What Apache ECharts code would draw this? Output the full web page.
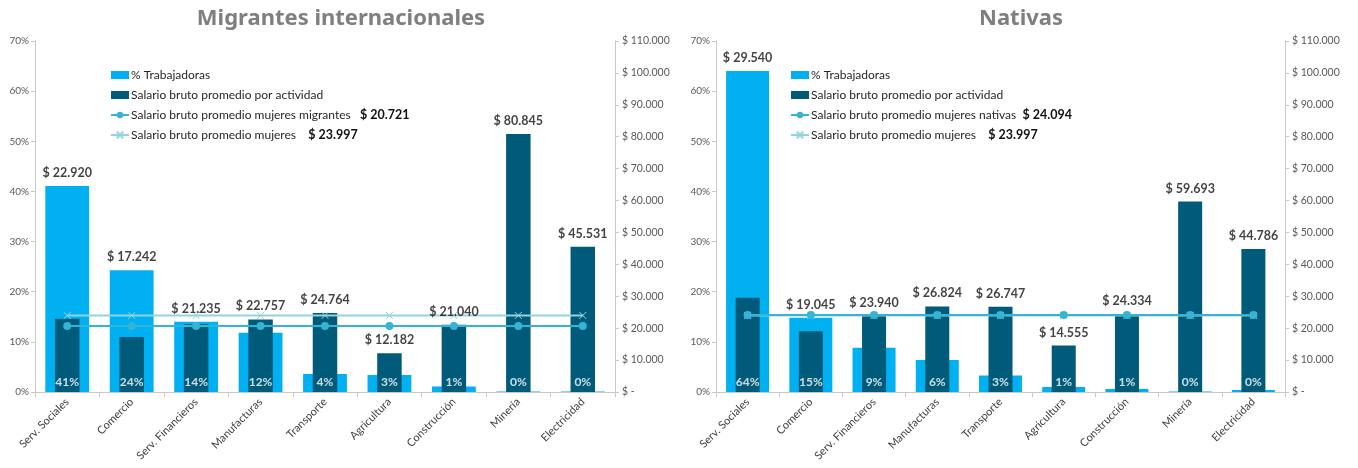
<!DOCTYPE html>
<html>
<head>
<meta charset="utf-8">
<script src="https://cdn.jsdelivr.net/npm/echarts@6/dist/echarts.min.js"></script>
<style>
  html, body { margin: 0; padding: 0; background: #fff; }
  #chart { width: 1358px; height: 468px; }
</style>
</head>
<body>
<div id="chart"></div>
<script>
// data
const categories = ['Serv. Sociales', 'Comercio', 'Serv. Financieros', 'Manufacturas', 'Transporte', 'Agricultura', 'Construcción', 'Minería', 'Electricidad'];

const pctMigrantes = [41.1, 24.3, 14.0, 11.8, 3.6, 3.4, 1.1, 0.1, 0.1];
const salarioMigrantes = [22920, 17242, 21235, 22757, 24764, 12182, 21040, 80845, 45531];
const promMigrantes = [20721, 20721, 20721, 20721, 20721, 20721, 20721, 20721, 20721];

const pctNativas = [64.0, 14.8, 8.8, 6.4, 3.3, 1.0, 0.6, 0.1, 0.4];
const salarioNativas = [29540, 19045, 23940, 26824, 26747, 14555, 24334, 59693, 44786];
const promNativas = [24094, 24094, 24094, 24094, 24094, 24094, 24094, 24094, 24094];

const promMujeres = [23997, 23997, 23997, 23997, 23997, 23997, 23997, 23997, 23997];

const pctMax = 70, pctStep = 10;
const salMax = 110000, salStep = 10000;

const FONT = 'Lato, "Liberation Sans", sans-serif';
const TITLE_FONT = '"Noto Sans", sans-serif';
const LIGHT = '#00b0f0';
const DARK = '#005b7a';
const LINE1 = '#35b4d6';
const LINE2 = '#93d3de';
const AXIS = '#c8c8c8';

const money = v => v === 0 ? '$ -' : '$ ' + String(v).replace(/\B(?=(\d{3})+(?!\d))/g, '.');

const chart = echarts.init(document.getElementById('chart'));

const grids = [], xAxes = [], yAxes = [], series = [], legends = [], titles = [];

function panel(i, title, pct, sal, prom, promName, gap, left, right, legendLeft, titleX) {
    grids.push({ left: left, right: right, top: 41, bottom: 76 });
    titles.push({
        text: title, left: titleX, top: 3, textAlign: 'center',
        textStyle: { fontFamily: TITLE_FONT, fontWeight: 'bold', fontSize: 22, color: '#7f7f7f' }
    });
    xAxes.push({
        type: 'category', gridIndex: i, data: categories,
        axisLine: { lineStyle: { color: AXIS } },
        axisTick: { show: true, length: 5, lineStyle: { color: AXIS } },
        axisLabel: { interval: 0, rotate: 45, fontFamily: FONT, fontSize: 11, color: '#404040', margin: 8 }
    });
    xAxes.push({ type: 'category', gridIndex: i, data: categories, show: false });
    yAxes.push({
        type: 'value', gridIndex: i, min: 0, max: pctMax, interval: pctStep, position: 'left',
        splitLine: { show: false },
        axisLine: { show: true, lineStyle: { color: AXIS } },
        axisTick: { show: true, length: 4, lineStyle: { color: AXIS } },
        axisLabel: { formatter: v => v + '%', fontFamily: FONT, fontSize: 10, color: '#595959', margin: 6 }
    });
    yAxes.push({
        type: 'value', gridIndex: i, min: 0, max: salMax, interval: salStep, position: 'right',
        splitLine: { show: false },
        axisLine: { show: true, lineStyle: { color: AXIS } },
        axisTick: { show: true, length: 4, lineStyle: { color: AXIS } },
        axisLabel: { formatter: money, fontFamily: FONT, fontSize: 10.5, color: '#595959', margin: 7, align: 'left' }
    });
    const xa = 2 * i, xb = 2 * i + 1, yl = 2 * i, yr = 2 * i + 1;
    series.push({
        name: '% Trabajadoras', type: 'bar', xAxisIndex: xa, yAxisIndex: yl,
        data: pct, barWidth: '68%', itemStyle: { color: LIGHT }, z: 2
    });
    series.push({
        name: 'Salario bruto promedio por actividad', type: 'bar', xAxisIndex: xb, yAxisIndex: yr,
        data: sal, barWidth: '38%', itemStyle: { color: DARK }, z: 2
    });
    series.push({
        name: 'Salario bruto promedio mujeres', type: 'line', xAxisIndex: xa, yAxisIndex: yr,
        data: promMujeres, symbol: 'path://M0,0L10,10M10,0L0,10', symbolSize: 7,
        itemStyle: { color: 'rgba(0,0,0,0)', borderColor: LINE2, borderWidth: 1 },
        lineStyle: { color: LINE2, width: 2 }, z: 5
    });
    series.push({
        name: promName, type: 'line', xAxisIndex: xa, yAxisIndex: yr,
        data: prom, symbol: 'circle', symbolSize: 8,
        itemStyle: { color: LINE1 }, lineStyle: { color: LINE1, width: 2 }, z: 6
    });
    // salary value labels, placed above whichever bar is taller
    series.push({
        type: 'scatter', xAxisIndex: xa, yAxisIndex: yr, silent: true, z: 10,
        data: sal.map((s, k) => Math.max(s, pct[k] / pctMax * salMax)),
        symbolSize: 1, itemStyle: { color: 'rgba(0,0,0,0)' },
        label: {
            show: true, position: 'top', distance: 6,
            formatter: p => money(sal[p.dataIndex]),
            fontFamily: FONT, fontWeight: 'bold', fontSize: 12.5, color: '#111111'
        }
    });
    // percentage labels at the foot of each bar
    series.push({
        type: 'scatter', xAxisIndex: xa, yAxisIndex: yl, silent: true, z: 11,
        data: pct.map(() => 0),
        symbolSize: 1, itemStyle: { color: 'rgba(0,0,0,0)' },
        label: {
            show: true, position: 'top', distance: 3,
            formatter: p => Math.round(pct[p.dataIndex]) + '%',
            fontFamily: FONT, fontWeight: 'bold', fontSize: 12, color: '#ffffff'
        }
    });
    const promVal = money(prom[0]);
    const mujVal = money(promMujeres[0]);
    legends.push({
        left: legendLeft, top: 63, orient: 'vertical', itemGap: 6,
        itemWidth: 18, itemHeight: 8,
        data: [
            { name: '% Trabajadoras', icon: 'rect' },
            { name: 'Salario bruto promedio por actividad', icon: 'rect' },
            { name: promName },
            { name: 'Salario bruto promedio mujeres' }
        ],
        formatter: n => n === promName ? n + gap + '{v|' + promVal + '}'
            : n === 'Salario bruto promedio mujeres' ? n + '    {v|' + mujVal + '}' : n,
        textStyle: {
            fontFamily: FONT, fontSize: 12, color: '#262626', padding: [0, 0, 0, -3], lineHeight: 14,
            rich: { v: { fontFamily: FONT, fontWeight: 'bold', fontSize: 12.5, color: '#111111', lineHeight: 14 } }
        },
        selectedMode: false
    });
}

panel(0, 'Migrantes internacionales', pctMigrantes, salarioMigrantes, promMigrantes,
    'Salario bruto promedio mujeres migrantes', '   ', 35, 743, 105, 336);
panel(1, 'Nativas', pctNativas, salarioNativas, promNativas,
    'Salario bruto promedio mujeres nativas', '  ', 716, 73, 785, 1016);

chart.setOption({
    animation: false,
    backgroundColor: '#ffffff',
    title: titles,
    legend: legends,
    grid: grids,
    xAxis: xAxes,
    yAxis: yAxes,
    series: series
});
</script>
</body>
</html>
